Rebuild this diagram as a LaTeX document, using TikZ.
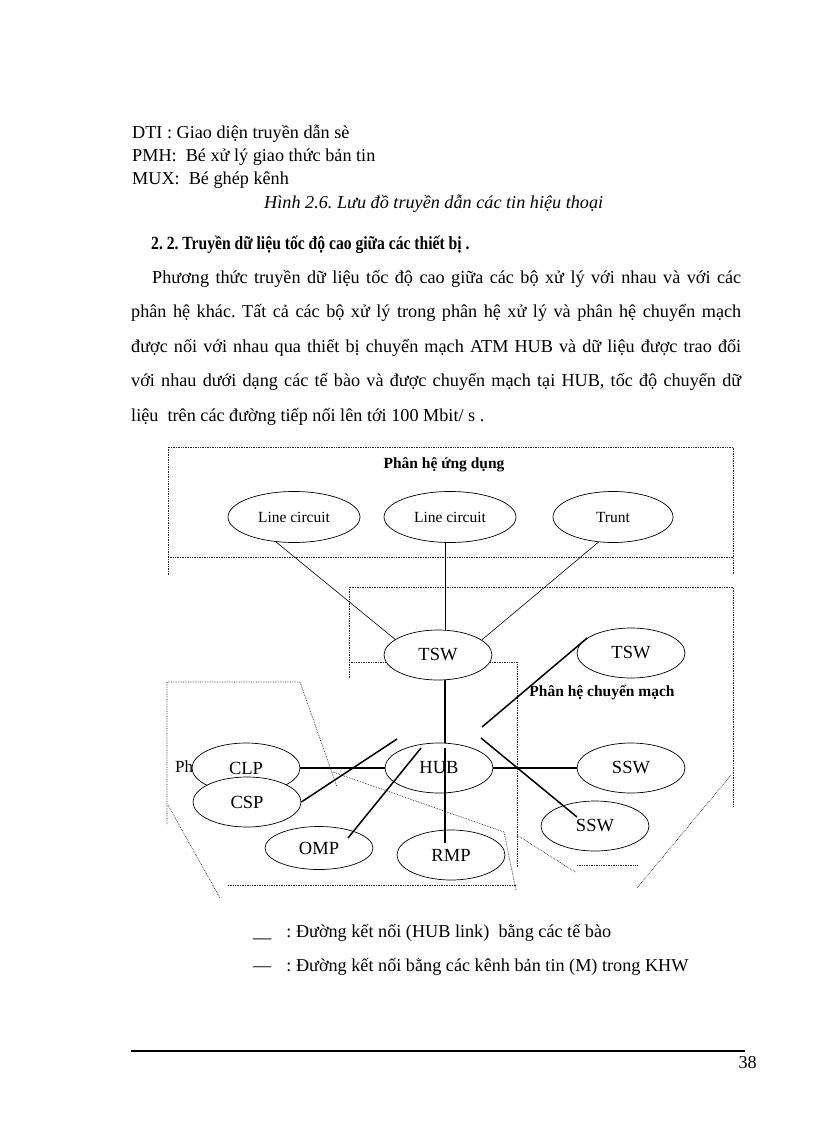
\documentclass[tikz,border=0pt]{standalone}
\usepackage{fontspec}
\setmainfont{Liberation Serif}
\newfontfamily\headfont[FakeStretch=0.84]{Liberation Serif}
\usepackage{tikz}
\usetikzlibrary{shapes,calc}
\frenchspacing

\begin{document}
\begin{tikzpicture}[x=1pt,y=-1pt,
		txt/.style={anchor=base west,inner sep=0pt,font=\fontsize{18.2}{20}\selectfont},
		proc/.style={draw,ellipse,fill=white,line width=0.7pt,inner sep=0pt,minimum width=108pt,minimum height=50pt,font=\fontsize{18.5}{20}\selectfont},
		appl/.style={draw,ellipse,fill=white,line width=0.7pt,inner sep=0pt,minimum width=132pt,minimum height=51pt,font=\fontsize{15.5}{17}\selectfont},
		zone/.style={densely dotted,line width=0.7pt,black!85},
		hublink/.style={line width=1.5pt},
		msglink/.style={line width=0.6pt}]
		\useasboundingbox (0,0) rectangle (816,1123);
		% text above the figure
		\node[txt] (dti) at (132,139) {DTI : Giao diện truyền dẫn sè};
		\node[txt] (pmh) at (132,162) {PMH:\ \ Bé xử lý giao thức bản tin};
		\node[txt] (mux) at (132,185) {MUX:\ \ Bé ghép kênh};
		\node[txt,font=\fontsize{18.2}{20}\selectfont\itshape] (cap) at (264,209) {Hình 2.6. Lưu đồ truyền dẫn các tin hiệu thoại};
		\node[txt,font=\fontsize{18.6}{20}\headfont\bfseries] (head) at (151,250) {2. 2. Truyền dữ liệu tốc độ cao giữa các thiết bị .};
		\node[txt] (parA) at (152,283) {\makebox[589pt][s]{Phương thức truyền dữ liệu tốc độ cao giữa các bộ xử lý với nhau và với các}};
		\node[txt] (parB) at (131,317.5) {\makebox[610pt][s]{phân hệ khác. Tất cả các bộ xử lý trong phân hệ xử lý và phân hệ chuyển mạch}};
		\node[txt] (parC) at (131,352) {\makebox[610pt][s]{được nối với nhau qua thiết bị chuyển mạch ATM HUB và dữ liệu được trao đổi}};
		\node[txt] (parD) at (131,386.5) {\makebox[610pt][s]{với nhau dưới dạng các tế bào và được chuyển mạch tại HUB, tốc độ chuyển dữ}};
		\node[txt] (parE) at (131,421) {liệu\ \ trên các đường tiếp nối lên tới 100 Mbit/ s .};
		% subsystem borders
		\draw[zone] (168,575) -- (168,447) -- (733,447) -- (733,575);
		\draw[zone] (168,557) -- (733,557);
		\draw[zone] (349,678) -- (349,587) -- (733,587) -- (733,807);
		\draw[zone] (731,775) -- (637,888);
		\draw[zone] (577,865) -- (637,865);
		\draw[zone] (517,835) -- (575,872);
		\draw[zone] (349,662) -- (517,662) -- (517,867);
		\draw[zone] (167,824) -- (167,682) -- (300,682) -- (337,787);
		\draw[zone] (333,772) -- (504,832) -- (516,890);
		\draw[zone] (228,885) -- (516,885);
		\draw[zone] (168,805) -- (220,898);
		\node[font=\fontsize{15.5}{17}\selectfont\bfseries] (ungdung) at (444,465) {Phân hệ ứng dụng};
		\node[font=\fontsize{15.5}{17}\selectfont\bfseries] (chmach) at (602,693) {Phân hệ chuyển mạch};
		\node[anchor=west,inner sep=0pt,font=\fontsize{17}{19}\selectfont] (xuly) at (175,767) {Ph};
		% units
		\node[appl] (lcA) at (294,517) {Line circuit};
		\node[appl] (lcB) at (450,517) {Line circuit};
		\node[appl,minimum width=120pt] (trunt) at (613,517) {Trunt};
		\node[proc] (tsw) at (438,655) {TSW};
		\node[proc] (tswB) at (631,653) {TSW};
		\node[proc] (hub) at (439,768) {HUB};
		\node[proc] (clp) at (246,768) {CLP};
		\node[proc] (csp) at (247,802) {CSP};
		\node[proc,minimum height=43pt] (omp) at (319,848) {OMP};
		\node[proc] (rmp) at (451,855) {RMP};
		\node[proc] (sswA) at (631,768) {SSW};
		\node[proc] (sswB) at (595,826) {SSW};
		% links
		\draw[msglink] (lcA.234) -- (tsw.160);
		\draw[msglink] ([xshift=-5pt]lcB.south) -- ([xshift=7pt]tsw.north);
		\draw[msglink] (trunt.240) -- (tsw.19);
		\draw[hublink] ([xshift=7pt]tsw.south) -- ([xshift=6pt]hub.north);
		\draw[hublink] ([xshift=6pt,yshift=-5pt]hub.north) -- ([xshift=-6pt,yshift=12pt]rmp.center);
		\draw[hublink] (clp.east) -- (hub.west);
		\draw[hublink] (hub.east) -- (sswA.west);
		\coordinate (hubW) at (397,739);
		\draw[hublink] (csp.east) -- (hubW);
		\draw[hublink] ([xshift=29pt,yshift=10pt]omp.center) -- ([xshift=-18pt,yshift=20pt]hub.center);
		\coordinate (hubNE) at (482,727);
		\draw[hublink] (hubNE) -- (tswB.161);
		\coordinate (hubSE) at (481,738);
		\draw[hublink] (hubSE) -- ([xshift=-18pt,yshift=9pt]sswB.center);
		% legend and footer
		\node[txt] (legA) at (253,937) {\_\_\hspace{15pt}: Đường kết nối (HUB link)\ \ bằng các tế bào};
		\node[txt] (legB) at (253,971) {—\hspace{15pt}: Đường kết nối bằng các kênh bản tin (M) trong KHW};
		\draw[line width=2pt] (131,1051) -- (745,1051);
		\node[txt,anchor=base east] (page) at (757,1068) {38};
\end{tikzpicture}
\end{document}
